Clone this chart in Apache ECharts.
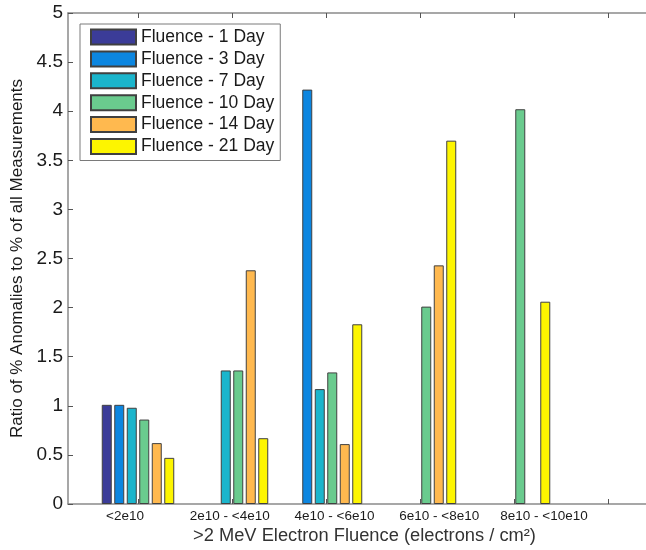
<!DOCTYPE html>
<html>
<head>
<meta charset="utf-8">
<script src="https://cdn.jsdelivr.net/npm/echarts@6/dist/echarts.min.js"></script>
<style>html,body{margin:0;padding:0;background:#fff}#c{width:646px;height:550px}</style>
</head>
<body>
<div id="c"></div>
<script>
const categories = ['<2e10', '2e10 - <4e10', '4e10 - <6e10', '6e10 - <8e10', '8e10 - <10e10'];
const groupPositions = [1, 2, 3, 4, 5];
const tickPositions = [1, 2, 3, 4, 5, 6];
const seriesNames = ['Fluence - 1 Day', 'Fluence - 3 Day', 'Fluence - 7 Day', 'Fluence - 10 Day', 'Fluence - 14 Day', 'Fluence - 21 Day'];
const day1  = [1.01, null, null, null, null];
const day3  = [1.01, null, 4.22, null, null];
const day7  = [0.98, 1.36, 1.17, null, null];
const day10 = [0.86, 1.36, 1.34, 2.01, 4.02];
const day14 = [0.62, 2.38, 0.61, 2.43, null];
const day21 = [0.47, 0.67, 1.83, 3.70, 2.06];
const yTicks = [0, 0.5, 1, 1.5, 2, 2.5, 3, 3.5, 4, 4.5, 5];

const colors = ['#3b3c98', '#0c86e0', '#1bb5cc', '#6acb8e', '#ffb94f', '#fdf500'];
const allVals = [day1, day3, day7, day10, day14, day21];
const FONT = 'Liberation Sans, Arial, sans-serif';

const series = allVals.map((vals, s) => ({
  name: seriesNames[s],
  type: 'bar',
  xAxisIndex: 0,
  yAxisIndex: 0,
  barWidth: 10,
  barGap: '25%',
  data: vals.map((v, i) => [groupPositions[i], v === null ? '-' : v]),
  itemStyle: { color: colors[s], borderColor: '#404040', borderWidth: 1 },
  emphasis: { disabled: true }
}));

const chart = echarts.init(document.getElementById('c'), null, { renderer: 'canvas' });
chart.setOption({
  animation: false,
  textStyle: { fontFamily: FONT },
  grid: { left: 68, right: 0, top: 13, bottom: 45 },
  legend: {
    data: seriesNames,
    orient: 'vertical',
    left: 80,
    top: 24,
    icon: 'rect',
    itemWidth: 45,
    itemHeight: 15,
    itemGap: 3.9,
    padding: [4, 6, 5, 10],
    borderColor: '#7a7a7a',
    borderWidth: 1,
    backgroundColor: '#fff',
    textStyle: { fontFamily: FONT, fontSize: 17.5, lineHeight: 17.5, color: '#1a1a1a' }
  },
  xAxis: [
    {
      type: 'value', position: 'bottom', min: 0.2553, max: 6.404,
      axisLine: { show: true, lineStyle: { color: '#8a8a8a', width: 1.5 } },
      axisTick: { show: true, inside: true, length: 5, customValues: tickPositions, lineStyle: { color: '#555' } },
      axisLabel: { show: false },
      splitLine: { show: false },
      name: '>2 MeV Electron Fluence (electrons / cm²)',
      nameLocation: 'middle',
      nameGap: 23,
      nameTextStyle: { fontFamily: FONT, fontSize: 18.3, color: '#333', padding: [0, 0, 0, 15] }
    },
    {
      type: 'value', position: 'top', min: 0.2553, max: 6.404,
      axisLine: { show: true, lineStyle: { color: '#8a8a8a', width: 1.5 } },
      axisTick: { show: true, inside: true, length: 5, customValues: tickPositions, lineStyle: { color: '#555' } },
      axisLabel: { show: false },
      splitLine: { show: false }
    },
    {
      type: 'value', position: 'bottom', min: 0.456, max: 5.974,
      axisLine: { show: false },
      axisTick: { show: false },
      splitLine: { show: false },
      axisLabel: {
        show: true, customValues: groupPositions, margin: 5,
        fontFamily: FONT, fontSize: 13.5, color: '#1a1a1a',
        formatter: v => categories[Math.round(v) - 1] || ''
      }
    }
  ],
  yAxis: {
    type: 'value', min: 0, max: 5, interval: 0.5,
    axisLine: { show: true, lineStyle: { color: '#8a8a8a', width: 1.5 } },
    axisTick: { show: true, inside: true, length: 5, lineStyle: { color: '#555' } },
    axisLabel: { fontFamily: FONT, fontSize: 19, color: '#1a1a1a', margin: 5,
      formatter: v => String(yTicks[Math.round(v * 2)]) },
    splitLine: { show: false },
    name: 'Ratio of % Anomalies to % of all Measurements',
    nameLocation: 'middle',
    nameGap: 38,
    nameTextStyle: { fontFamily: FONT, fontSize: 17, color: '#1a1a1a' }
  },
  series: series
});
</script>
</body>
</html>
